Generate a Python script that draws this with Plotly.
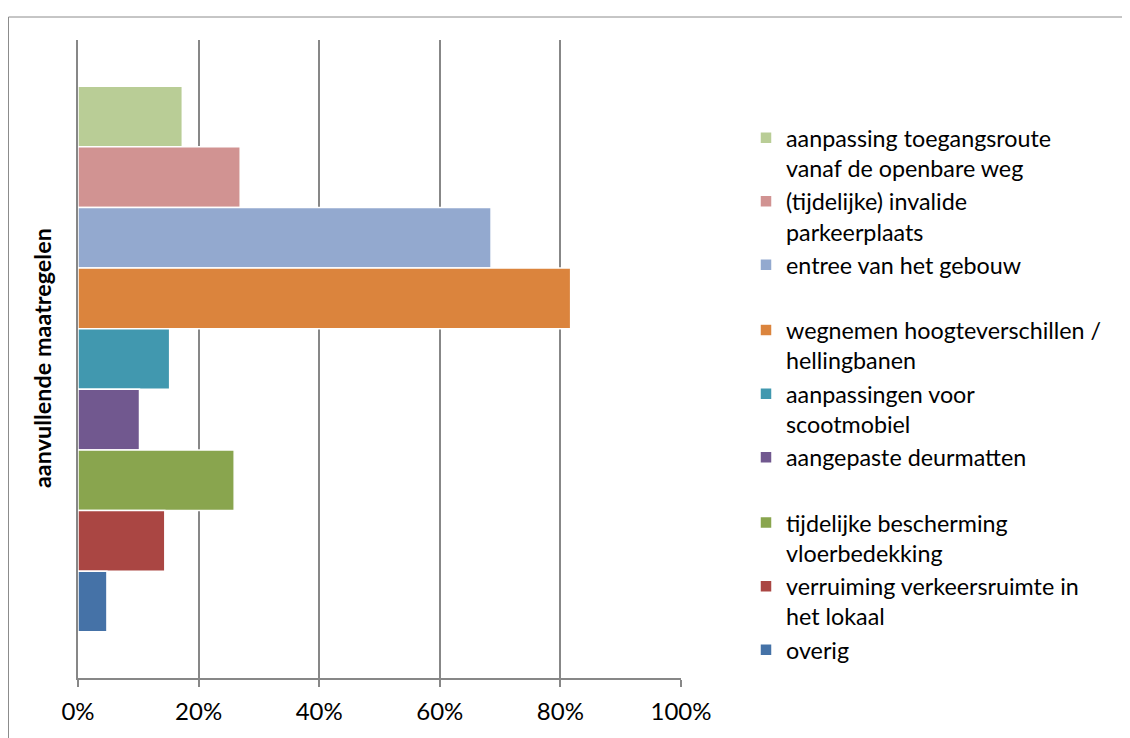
import plotly.graph_objects as go

category = ["aanvullende maatregelen"]
series_names = [
    "aanpassing toegangsroute<br>vanaf de openbare weg",
    "(tijdelijke) invalide<br>parkeerplaats",
    "entree van het gebouw",
    "wegnemen hoogteverschillen /<br>hellingbanen",
    "aanpassingen voor<br>scootmobiel",
    "aangepaste deurmatten",
    "tijdelijke bescherming<br>vloerbedekking",
    "verruiming verkeersruimte in<br>het lokaal",
    "overig",
]
values = [0.173, 0.269, 0.685, 0.817, 0.152, 0.102, 0.259, 0.144, 0.048]
colors = ["#B9CD96", "#D19392", "#93A9CF", "#DB843D", "#4198AF",
          "#71588F", "#89A54E", "#AA4643", "#4572A7"]
groups = ["g1", "g1", "g1", "g2", "g2", "g2", "g3", "g3", "g3"]
x_ticks = [0, 0.2, 0.4, 0.6, 0.8, 1.0]
x_labels = ["0%", "20%", "40%", "60%", "80%", "100%"]

FONT = "Lato"

fig = go.Figure()
for name, v, c, g in zip(series_names, values, colors, groups):
    fig.add_trace(go.Bar(
        y=category, x=[v], name=name, orientation="h",
        marker=dict(color=c, line=dict(color="white", width=1.5)),
        legendgroup=g,
    ))

# page has an 8px body margin; figure pixel coords = page coords - 8
W, H = 1122, 730
L, R, T, B = 70, 673, 32, 670

def px_x(p):
    return (p - L) / (R - L)

def px_y(p):
    return (B - p) / (B - T)

fig.update_layout(
    width=W, height=H,
    margin=dict(l=L, r=W - R, t=T, b=H - B, autoexpand=False),
    paper_bgcolor="white", plot_bgcolor="white",
    barmode="group", bargap=0.145, bargroupgap=0,
    font=dict(family=FONT, size=24, color="black"),
    showlegend=True,
    legend=dict(
        x=px_x(738), y=px_y(108),
        xanchor="left", yanchor="top",
        traceorder="grouped", tracegroupgap=32,
        valign="top",
        font=dict(family=FONT, size=23.3, color="black"),
        itemwidth=30,
        bgcolor="rgba(0,0,0,0)",
    ),
    xaxis=dict(
        range=[0, 1], tickvals=x_ticks, ticktext=x_labels,
        showgrid=True, gridcolor="#878787", gridwidth=1.5,
        showline=True, linecolor="#878787", linewidth=1.5,
        ticks="outside", ticklen=7, tickcolor="#878787", tickwidth=1.5,
        ticklabelstandoff=4,
        tickfont=dict(family=FONT, size=24, color="black"),
        zeroline=False, fixedrange=True,
    ),
    yaxis=dict(
        autorange="reversed", showticklabels=False,
        showline=True, linecolor="#878787", linewidth=1.5,
        showgrid=False, zeroline=False, ticks="",
    ),
    shapes=[dict(
        type="rect", xref="paper", yref="paper",
        x0=px_x(0.5), x1=2.0,
        y0=-0.3, y1=px_y(9),
        line=dict(color="#8c8c8c", width=1), fillcolor="rgba(0,0,0,0)",
        layer="below",
    )],
    annotations=[dict(
        text="<b>" + category[0] + "</b>", textangle=-90,
        xref="paper", yref="paper",
        x=px_x(34), y=px_y(350),
        xanchor="center", yanchor="middle", showarrow=False,
        font=dict(family=FONT, size=23.4, color="black"),
    )],
)

fig.write_html("out.html")
